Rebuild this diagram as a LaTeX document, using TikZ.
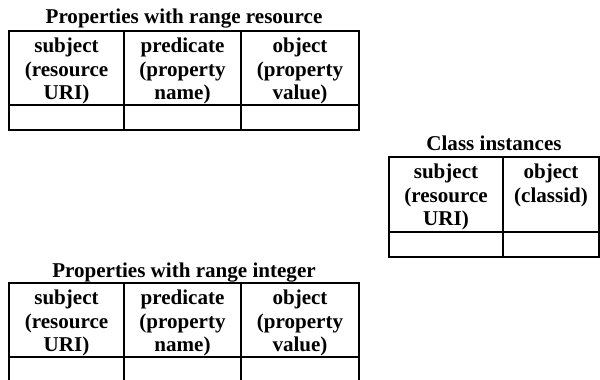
\documentclass[tikz,border=0pt]{standalone}
\usepackage{fontspec}
\setmainfont{Liberation Serif}
\tikzset{
  tabtitle/.style = {font=\fontsize{15.8}{17.6}\selectfont\bfseries, anchor=base, inner sep=0pt},
  headcell/.style = {font=\fontsize{15.8}{17.6}\selectfont\bfseries, align=center, anchor=north, inner sep=0pt},
  tabline/.style = {line width=2pt}
}

\begin{document}
\begin{tikzpicture}[x=0.75pt, y=-0.75pt]
\useasboundingbox (0,0) rectangle (600,379);
% the two property tables
\foreach \name/\range/\ty/\tb in {res/resource/31/23, int/integer/283/277}
{
\node[tabtitle] (\name-title) at (184,\tb) {Properties with range \range};
\draw[tabline] (9,\ty) rectangle (359,\ty+99);
\draw[tabline] (9,\ty+74) -- (359,\ty+74);
\draw[tabline] (124,\ty) -- (124,\ty+99) (241,\ty) -- (241,\ty+99);
\node[headcell] (\name-subj) at (66.5,\ty+7) {subject\\(resource\\URI)};
\node[headcell] (\name-pred) at (182.5,\ty+7) {predicate\\(property\\name)};
\node[headcell] (\name-obj) at (300,\ty+7) {object\\(property\\value)};
}
% class instances
\node[tabtitle] (ci-title) at (494,150) {Class instances};
\draw[tabline] (389,157) rectangle (599,257);
\draw[tabline] (389,232) -- (599,232);
\draw[tabline] (503,157) -- (503,257);
\node[headcell] (ci-subj) at (446,164) {subject\\(resource\\URI)};
\node[headcell] (ci-obj) at (551,164) {object\\(classid)};
\end{tikzpicture}
\end{document}
